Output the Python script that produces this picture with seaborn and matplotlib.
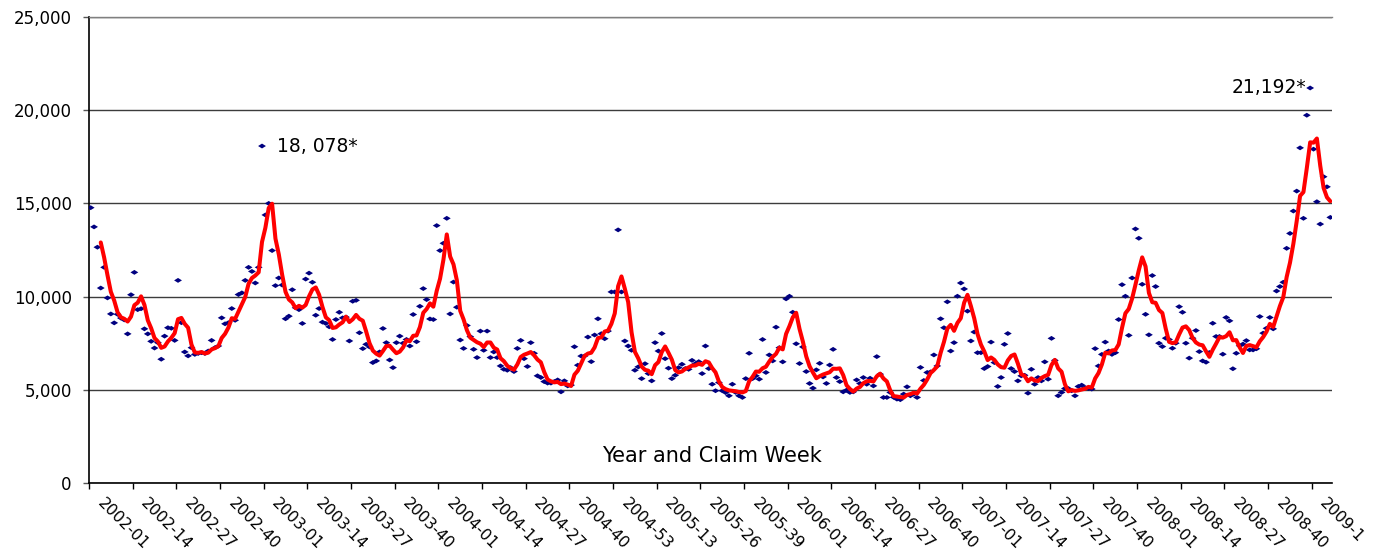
import numpy as np
import pandas as pd
import matplotlib
matplotlib.use("Agg")
import matplotlib.pyplot as plt
import matplotlib.transforms as mtransforms
from matplotlib.ticker import FuncFormatter
import seaborn as sns

# Weekly initial claims, 2002-01 .. 2009
weekly_claims = [
    14770, 13740, 12650, 10460, 11570, 9930, 9070, 8590, 9050, 8850,
    8750, 8000, 10100, 11300, 9300, 9350, 8270, 8000, 7600, 7240,
    7530, 6640, 7880, 8330, 8300, 7650, 10870, 8600, 7030, 6820,
    7260, 6900, 6950, 6990, 6950, 7080, 7650, 7260, 7350, 8860,
    8540, 8600, 9360, 8730, 10110, 10200, 10870, 11570, 11350, 10730,
    11570, 18078, 14380, 15000, 12470, 10590, 11000, 10620, 8810, 8950,
    10370, 9400, 9300, 8560, 10940, 11260, 10770, 9000, 9360, 8630,
    8560, 8380, 7700, 8770, 9160, 8860, 8900, 7620, 9750, 9800,
    8060, 7210, 7440, 7300, 6460, 6550, 7030, 8290, 7530, 6600,
    6190, 7530, 7880, 7500, 7700, 7350, 9040, 7580, 9480, 10430,
    9840, 8800, 8770, 13810, 12470, 12860, 14200, 9070, 10780, 9430,
    7670, 7220, 8450, 7850, 7170, 6730, 8150, 7120, 8150, 6730,
    7030, 6730, 6280, 6100, 6050, 6190, 5980, 7220, 7650, 6670,
    6250, 7530, 6960, 5750, 5660, 5440, 5360, 5360, 5440, 5530,
    4890, 5480, 5210, 5250, 7310, 6320, 6810, 6810, 7830, 6510,
    7940, 8810, 8010, 7740, 8150, 10250, 10250, 13580, 10250, 7620,
    7350, 7120, 6050, 6230, 5600, 6400, 5870, 5480, 7530, 7080,
    8020, 6670, 6160, 5600, 5780, 6190, 6370, 6140, 6100, 6580,
    6400, 6510, 5870, 7350, 6140, 5300, 4950, 5390, 4950, 4850,
    4680, 5300, 4860, 4680, 4590, 5600, 6960, 5600, 5750, 5570,
    7700, 5930, 6870, 6550, 8360, 7260, 6500, 9880, 10020, 9160,
    7470, 6410, 7300, 5980, 5340, 5090, 6070, 6420, 5690, 5340,
    6330, 7170, 5660, 5440, 4890, 4980, 4860, 4890, 5530, 5340,
    5660, 5300, 5620, 5210, 6780, 5840, 4590, 4590, 4860, 4600,
    4500, 4470, 4770, 5160, 4680, 4770, 4590, 6200, 5500, 5930,
    5960, 6870, 6280, 8810, 8330, 9720, 7080, 7530, 10020, 10730,
    10410, 9220, 7620, 8100, 6990, 6990, 6140, 6250, 7560, 6460,
    5180, 5660, 7440, 8020, 6140, 5980, 5480, 5750, 5780, 4820,
    6100, 5300, 5660, 5480, 6500, 5570, 7760, 6580, 4680, 4860,
    5070, 5070, 4950, 4680, 5180, 5250, 5120, 5070, 5040, 7210,
    6280, 6900, 7560, 7080, 6900, 6990, 8770, 10640, 10020, 7920,
    11000, 13630, 13130, 10660, 9050, 7950, 11130, 10540, 7500, 7320,
    7770, 7700, 7230, 7500, 9460, 9160, 7500, 6700, 7770, 8180,
    7050, 6550, 6480, 7000, 8570, 7860, 7860, 6910, 8880, 8700,
    6130, 6960, 7360, 7450, 7640, 7140, 7140, 7200, 8930, 8040,
    8300, 8880, 8270, 10300, 10540, 10770, 12590, 13390, 14590, 15660,
    17980, 14200, 19730, 21192, 17910, 15090, 13890, 16430, 15890, 14250,
]

week_labels = [
    '2002-01', '2002-14', '2002-27', '2002-40', '2003-01', '2003-14', '2003-27',
    '2003-40', '2004-01', '2004-14', '2004-27', '2004-40', '2004-53', '2005-13',
    '2005-26', '2005-39', '2006-01', '2006-14', '2006-27', '2006-40', '2007-01',
    '2007-14', '2007-27', '2007-40', '2008-01', '2008-14', '2008-27', '2008-40',
    '2009-1',
]
label_step = 13  # one label every 13 claim weeks

flagged = {18078: '18, 078*', 21192: '21,192*'}

df = pd.DataFrame({'week': np.arange(len(weekly_claims)), 'claims': weekly_claims})
df['moving_avg'] = df['claims'].rolling(4).mean()

sns.set_style('white')
plt.rcParams['font.family'] = ['DejaVu Sans']
plt.rcParams['text.color'] = 'black'
plt.rcParams['xtick.color'] = 'black'
plt.rcParams['ytick.color'] = 'black'

W, H = 1374, 553
fig = plt.figure(figsize=(W / 100, H / 100), dpi=100)
ax = fig.add_axes([89 / W, 1 - 483 / H, (1332 - 89) / W, (483 - 17) / H])

diamond = [(-1, 0), (0, 0.62), (1, 0), (0, -0.62)]
sns.scatterplot(data=df, x='week', y='claims', marker=diamond, s=32,
                color='#000080', edgecolor='none', linewidth=0, ax=ax, zorder=3)
sns.lineplot(data=df, x='week', y='moving_avg', color='#ff0000', linewidth=2.9,
             ax=ax, zorder=4)

ax.set_xlim(-0.5, len(weekly_claims) - 0.5)
ax.set_ylim(0, 25000)
ax.set_yticks(np.arange(0, 25001, 5000))
ax.yaxis.set_major_formatter(FuncFormatter(lambda v, p: f'{int(v):,}'))
ax.yaxis.grid(True, color='#3c3c3c', linewidth=1.0)
ax.set_axisbelow(True)

ax.set_xticks(np.arange(len(week_labels)) * label_step - 0.5)
ax.set_xticklabels(week_labels)
ax.set_xlabel('')
ax.set_ylabel('')

ax.tick_params(axis='y', direction='out', length=4.5, width=1, color='#555555',
               labelcolor='black', pad=8, labelsize=12, left=True)
ax.tick_params(axis='x', direction='out', length=4, width=1, color='black',
               labelcolor='black', pad=5, labelsize=11.3, bottom=True)

shift = mtransforms.ScaledTranslation(0.16, 0, fig.dpi_scale_trans)
for lbl in ax.get_xticklabels():
    lbl.set_rotation(-45)
    lbl.set_ha('left')
    lbl.set_va('top')
    lbl.set_rotation_mode('anchor')
    lbl.set_transform(lbl.get_transform() + shift)

ax.spines['right'].set_visible(False)
ax.spines['top'].set_color('#808080')
ax.spines['top'].set_linewidth(1.0)
ax.spines['left'].set_color('black')
ax.spines['left'].set_linewidth(1.2)
ax.spines['bottom'].set_color('black')
ax.spines['bottom'].set_linewidth(1.2)

ax.text(0.501, 0.058, 'Year and Claim Week', transform=ax.transAxes,
        ha='center', va='center', fontsize=15, color='black')

for value, text in flagged.items():
    wk = df.loc[df['claims'] == value, 'week'].iloc[0]
    if wk < len(weekly_claims) / 2:
        ax.annotate(text, xy=(wk, value), xytext=(15, 0), textcoords='offset pixels',
                    ha='left', va='center', fontsize=13.5, color='black')
    else:
        ax.annotate(text, xy=(wk, value), xytext=(-4, 0), textcoords='offset pixels',
                    ha='right', va='center', fontsize=13.5, color='black')

fig.savefig('out.png', dpi=100)
